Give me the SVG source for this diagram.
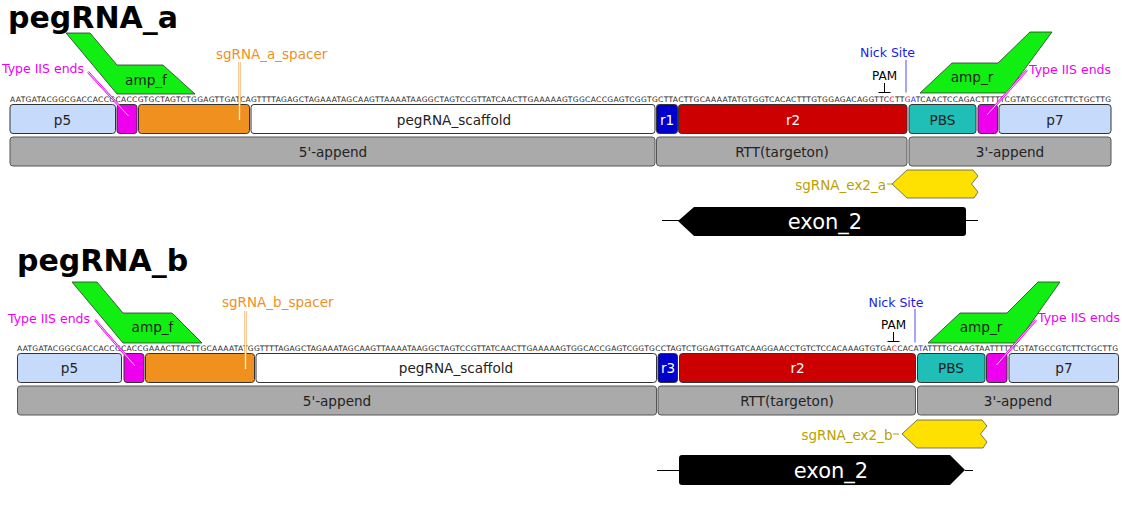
<svg xmlns="http://www.w3.org/2000/svg" width="1122" height="508" viewBox="0 0 1122 508">
<style>
text{font-family:"DejaVu Sans","Noto Sans",sans-serif}
.title{font-size:30px;font-weight:bold;fill:#000}
.seq{font-size:7.5px;fill:#222}
.lbl{font-size:13.6px;text-anchor:middle;fill:#222}
.wl{fill:#fff}
.box{stroke:#333;stroke-width:1}
.p{fill:#c6dafc}
.m{fill:#ee00ee}
.o{fill:#f0901e}
.w{fill:#fff}
.b{fill:#0000cc}
.r{fill:#cc0000}
.pbs{fill:#1fbfb8}
.g{fill:#aaaaaa;stroke:#555;stroke-width:1}
.prim{fill:#11ee11;stroke:#333;stroke-width:0.8}
.sg{fill:#ffe100;stroke:#555;stroke-width:0.8}
.ex{fill:#000}
.exl{stroke:#000;stroke-width:1}
.tiis{font-size:12.5px;fill:#ee00ee}
.sp{font-size:13.5px;fill:#f0901e}
.nick{font-size:12.5px;fill:#1a1aee;text-anchor:middle}
.pam{font-size:12px;fill:#000;text-anchor:middle}
.sgl{font-size:13.5px;fill:#bba000;text-anchor:end}
.ext{font-size:21px;fill:#fff;text-anchor:middle}
.lm{stroke:#ee00ee;stroke-width:2.2}
.lo{stroke:#f4a850;stroke-width:2.2}
.lw{stroke:#fff;stroke-width:0.8}
.ln{stroke:#6a6aff;stroke-width:1.2}
.lk{stroke:#000;stroke-width:1}
.ly{stroke:#bba000;stroke-width:1}
.red{fill:#ee0000}
.blu{fill:#2a2aff}
</style>

<!-- ===== pegRNA_a ===== -->
<g id="title_a"><text class="title" x="8" y="28">pegRNA_a</text></g>

<g id="seq_a"><text class="seq" x="10" y="101.7" textLength="1101" lengthAdjust="spacing">AATGATACGGCGACCACCGCACCGTGCTAGTCTGGAGTTGATCAGTTTTAGAGCTAGAAATAGCAAGTTAAAATAAGGCTAGTCCGTTATCAACTTGAAAAAGTGGCACCGAGTCGGTGCTTACTTGCAAAATATGTGGTCACACTTTGTGGAGACAGGTTC<tspan class="red">C</tspan>TT<tspan class="red">G</tspan><tspan class="blu">A</tspan>TCAACTCCAGACTTTTTCGTATGCCGTCTTCTGCTTG</text></g>

<g id="amp_f_a"><polygon class="prim" points="66,33 90,33 117,65 163,65 195,94 117,94"/><text class="lbl" x="146" y="84.5">amp_f</text></g>
<g id="amp_r_a"><polygon class="prim" points="1030,32 1052,32 1007,93 920,93 952,63 998,63"/><text class="lbl" x="972" y="82">amp_r</text></g>

<g id="p5_a"><rect class="box p" x="10" y="104.5" width="105.5" height="29" rx="3"/><text class="lbl" x="62.5" y="124.5">p5</text></g>
<g id="iis1_a"><rect class="box m" x="117" y="104.5" width="20" height="29" rx="3"/></g>
<g id="spacer_a"><rect class="box o" x="138.5" y="104.5" width="111" height="29" rx="3"/></g>
<g id="scaffold_a"><rect class="box w" x="251" y="104.5" width="404" height="29" rx="3"/><text class="lbl" x="454" y="124.5">pegRNA_scaffold</text></g>
<g id="r1_a"><rect class="box b" x="656.5" y="104.5" width="21" height="29" rx="3"/><text class="lbl wl" x="667" y="124.5">r1</text></g>
<g id="r2_a"><rect class="box r" x="678.5" y="104.5" width="228.5" height="29" rx="3"/><text class="lbl wl" x="793" y="124.5">r2</text></g>
<g id="pbs_a"><rect class="box pbs" x="909" y="104.5" width="67" height="29" rx="3"/><text class="lbl" x="942.5" y="124.5">PBS</text></g>
<g id="iis2_a"><rect class="box m" x="978" y="104.5" width="19.5" height="29" rx="3"/></g>
<g id="p7_a"><rect class="box p" x="999" y="104.5" width="112" height="29" rx="3"/><text class="lbl" x="1055" y="124.5">p7</text></g>

<g id="append5_a"><rect class="g" x="10" y="137" width="645" height="29" rx="3"/><text class="lbl" x="333" y="157">5'-append</text></g>
<g id="rtt_a"><rect class="g" x="656.5" y="137" width="250.5" height="29" rx="3"/><text class="lbl" x="782" y="157">RTT(targeton)</text></g>
<g id="append3_a"><rect class="g" x="909" y="137" width="202" height="29" rx="3"/><text class="lbl" x="1010" y="157">3'-append</text></g>

<g id="labels_a">
<text class="tiis" x="2" y="73">Type IIS ends</text>
<text class="tiis" x="1029" y="73.5">Type IIS ends</text>
<text class="sp" x="216" y="58.5">sgRNA_a_spacer</text>
<text class="nick" x="887.5" y="57">Nick Site</text>
<text class="pam" x="884.5" y="80">PAM</text>
</g>

<g id="sgRNA_ex2_a"><polygon class="sg" points="892,184 907,170 973,170 978,176 971.5,184 978,192 974,198 907,198"/><text class="sgl" x="886" y="189.5">sgRNA_ex2_a</text></g>
<g id="exon_2_a"><path class="ex" d="M678,221 L694,207 L963,207 Q966,207 966,210 L966,233 Q966,236 963,236 L694,236 Z"/><text class="ext" x="825" y="229">exon_2</text></g>

<!-- ===== pegRNA_b ===== -->
<g id="title_b"><text class="title" x="17" y="271">pegRNA_b</text></g>

<g id="seq_b"><text class="seq" x="17" y="350.7" textLength="1101" lengthAdjust="spacing">AATGATACGGCGACCACCGCACCGAAACTTACTTGCAAAATATGGTTTTAGAGCTAGAAATAGCAAGTTAAAATAAGGCTAGTCCGTTATCAACTTGAAAAAGTGGCACCGAGTCGGTGCCTAGTCTGGAGTTGATCAAGGAACCTGTCTCCACAAAGTGTGA<tspan class="red">C</tspan>CACA<tspan class="blu">T</tspan>ATTTTGCAAGTAATTTTTCGTATGCCGTCTTCTGCTTG</text></g>

<g id="amp_f_b"><polygon class="prim" points="72,282 97,282 123,313 172,313 202,343 123,343"/><text class="lbl" x="152.5" y="332">amp_f</text></g>
<g id="amp_r_b"><polygon class="prim" points="1038,282 1060,282 1017,343 928,343 960,313 1007,313"/><text class="lbl" x="981" y="331.5">amp_r</text></g>

<g id="p5_b"><rect class="box p" x="17.5" y="353.5" width="104" height="29" rx="3"/><text class="lbl" x="69.5" y="373">p5</text></g>
<g id="iis1_b"><rect class="box m" x="124" y="353.5" width="20" height="29" rx="3"/></g>
<g id="spacer_b"><rect class="box o" x="145.5" y="353.5" width="109" height="29" rx="3"/></g>
<g id="scaffold_b"><rect class="box w" x="256" y="353.5" width="400.5" height="29" rx="3"/><text class="lbl" x="456" y="373">pegRNA_scaffold</text></g>
<g id="r3_b"><rect class="box b" x="658" y="353.5" width="19.5" height="29" rx="3"/><text class="lbl wl" x="668" y="373">r3</text></g>
<g id="r2_b"><rect class="box r" x="679.5" y="353.5" width="236" height="29" rx="3"/><text class="lbl wl" x="797.5" y="373">r2</text></g>
<g id="pbs_b"><rect class="box pbs" x="917.5" y="353.5" width="67.5" height="29" rx="3"/><text class="lbl" x="951" y="373">PBS</text></g>
<g id="iis2_b"><rect class="box m" x="986.5" y="353.5" width="20.5" height="29" rx="3"/></g>
<g id="p7_b"><rect class="box p" x="1009" y="353.5" width="109.5" height="29" rx="3"/><text class="lbl" x="1064" y="373">p7</text></g>

<g id="append5_b"><rect class="g" x="17.5" y="386" width="639" height="29" rx="3"/><text class="lbl" x="337" y="406">5'-append</text></g>
<g id="rtt_b"><rect class="g" x="658" y="386" width="257.5" height="29" rx="3"/><text class="lbl" x="787" y="406">RTT(targeton)</text></g>
<g id="append3_b"><rect class="g" x="917.5" y="386" width="201" height="29" rx="3"/><text class="lbl" x="1018" y="406">3'-append</text></g>

<g id="labels_b">
<text class="tiis" x="8" y="323">Type IIS ends</text>
<text class="tiis" x="1038" y="322">Type IIS ends</text>
<text class="sp" x="222" y="307">sgRNA_b_spacer</text>
<text class="nick" x="896" y="307">Nick Site</text>
<text class="pam" x="893.5" y="329">PAM</text>
</g>

<g id="sgRNA_ex2_b"><polygon class="sg" points="902,434 917,420 982,420 987,426 980.5,434 987,442 983,448 917,448"/><text class="sgl" x="892.5" y="439.5">sgRNA_ex2_b</text></g>
<g id="exon_2_b"><path class="ex" d="M679,458 Q679,455 682,455 L950,455 L965,470 L950,485 L682,485 Q679,485 679,482 Z"/><text class="ext" x="831" y="478">exon_2</text></g>

<!-- ===== connectors ===== -->
<g id="connectors">
<line class="lm" x1="88" y1="72" x2="128.5" y2="116"/><line class="lw" x1="88" y1="72" x2="128.5" y2="116"/>
<line class="lm" x1="1027" y1="70" x2="987" y2="115"/><line class="lw" x1="1027" y1="70" x2="987" y2="115"/>
<line class="lo" x1="239.5" y1="62" x2="239.5" y2="120"/><line class="lw" x1="239.5" y1="62" x2="239.5" y2="120"/>
<line class="ln" x1="906" y1="60" x2="906" y2="92.5"/>
<line class="lk" x1="884.5" y1="83" x2="884.5" y2="92.5"/><line class="lk" x1="878.5" y1="92.5" x2="890.5" y2="92.5"/>
<line class="ly" x1="887" y1="184" x2="892" y2="184"/>
<line class="exl" x1="662" y1="220.5" x2="679" y2="220.5"/><line class="exl" x1="966" y1="220.5" x2="978" y2="220.5"/>

<line class="lm" x1="95" y1="320" x2="135" y2="366"/><line class="lw" x1="95" y1="320" x2="135" y2="366"/>
<line class="lm" x1="1036" y1="320" x2="996.5" y2="365"/><line class="lw" x1="1036" y1="320" x2="996.5" y2="365"/>
<line class="lo" x1="245.5" y1="311" x2="245.5" y2="369"/><line class="lw" x1="245.5" y1="311" x2="245.5" y2="369"/>
<line class="ln" x1="915" y1="309" x2="915" y2="342.5"/>
<line class="lk" x1="893.5" y1="332" x2="893.5" y2="341.5"/><line class="lk" x1="887.5" y1="341.5" x2="899.5" y2="341.5"/>
<line class="ly" x1="893" y1="434" x2="899" y2="434"/>
<line class="exl" x1="657" y1="470.5" x2="679" y2="470.5"/><line class="exl" x1="965" y1="470.5" x2="973" y2="470.5"/>
</g>
</svg>
